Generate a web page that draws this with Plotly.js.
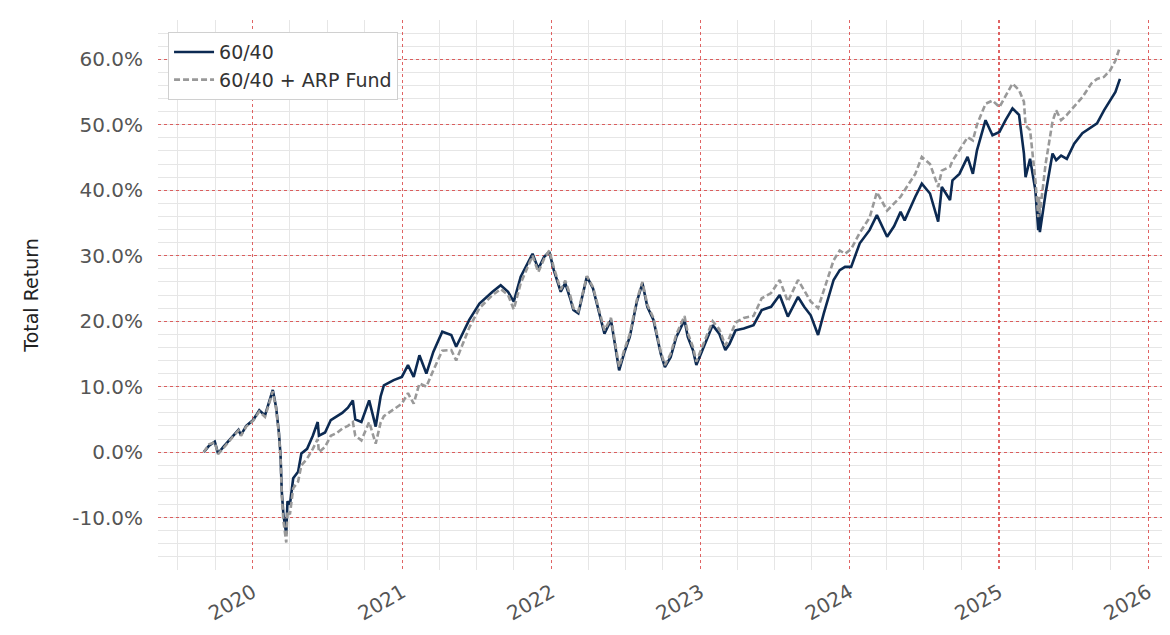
<!DOCTYPE html>
<html>
<head>
<meta charset="utf-8">
<script src="https://cdn.plot.ly/plotly-3.0.1.min.js"></script>
<style>
  html, body { margin: 0; padding: 0; background: #ffffff; }
  #chart { width: 1170px; height: 635px; }
</style>
</head>
<body>
<div id="chart"></div>
<script>
// Observation dates shared by both portfolios
const dates = [
  "2019-09-03","2019-09-16","2019-09-30","2019-10-08","2019-10-21","2019-11-04","2019-11-18","2019-11-27",
  "2019-12-03","2019-12-16","2020-01-02","2020-01-17","2020-01-31","2020-02-12","2020-02-19","2020-02-27",
  "2020-03-05","2020-03-09","2020-03-12","2020-03-16","2020-03-23","2020-03-26","2020-04-01","2020-04-09",
  "2020-04-21","2020-04-29","2020-05-13","2020-05-27","2020-06-08","2020-06-11","2020-06-26","2020-07-10",
  "2020-07-24","2020-08-07","2020-08-21","2020-09-02","2020-09-08","2020-09-23","2020-10-12","2020-10-28",
  "2020-11-09","2020-11-17","2020-12-11","2020-12-31","2021-01-15","2021-01-29","2021-02-12","2021-03-01",
  "2021-03-18","2021-04-09","2021-05-01","2021-05-13","2021-06-14","2021-07-09","2021-08-10","2021-08-30",
  "2021-09-17","2021-10-01","2021-10-18","2021-11-02","2021-11-16","2021-11-30","2021-12-14","2021-12-27",
  "2022-01-07","2022-01-24","2022-02-04","2022-02-16","2022-02-24","2022-03-08","2022-03-29","2022-04-13",
  "2022-04-29","2022-05-11","2022-05-27","2022-06-16","2022-06-28","2022-07-12","2022-07-29","2022-08-12",
  "2022-08-24","2022-09-08","2022-09-26","2022-10-06","2022-10-20","2022-11-03","2022-11-23","2022-12-01",
  "2022-12-14","2022-12-22","2023-01-06","2023-01-31","2023-02-16","2023-03-03","2023-03-13","2023-03-28",
  "2023-04-17","2023-05-11","2023-05-31","2023-06-23","2023-07-14","2023-08-03","2023-08-28","2023-09-12",
  "2023-09-28","2023-10-16","2023-10-30","2023-11-23","2023-12-08","2023-12-21","2024-01-05","2024-01-26",
  "2024-02-19","2024-03-08","2024-04-02","2024-04-19","2024-05-05","2024-05-15","2024-06-10","2024-06-26",
  "2024-07-16","2024-08-05","2024-08-14","2024-09-03","2024-09-09","2024-09-26","2024-10-16","2024-10-29",
  "2024-11-08","2024-11-29","2024-12-16","2025-01-02","2025-01-17","2025-02-03","2025-02-19","2025-03-03",
  "2025-03-07","2025-03-18","2025-03-31","2025-04-07","2025-04-09","2025-04-11","2025-04-25","2025-05-12",
  "2025-05-21","2025-06-02","2025-06-16","2025-07-04","2025-07-24","2025-08-15","2025-08-29","2025-09-15",
  "2025-09-30","2025-10-13","2025-10-24"
];

// Cumulative total return (%) of the 60/40 portfolio
const return6040 = [
  0.0, 1.0, 1.6, -0.2, 0.8, 1.8, 2.8, 3.4,
  2.6, 4.0, 4.9, 6.4, 5.6, 8.0, 9.5, 6.9,
  3.0, -0.5, -6.0, -9.5, -12.5, -7.5, -8.0, -4.0,
  -3.0, -0.2, 0.5, 2.5, 4.6, 2.5, 3.0, 4.9,
  5.5, 6.0, 6.8, 7.9, 5.0, 4.6, 7.9, 3.9,
  8.5, 10.2, 11.0, 11.5, 13.3, 11.5, 14.8, 12.0,
  15.3, 18.4, 17.9, 16.1, 20.2, 22.7, 24.5, 25.5,
  24.5, 23.0, 26.8, 28.5, 30.3, 28.0, 29.8, 30.6,
  27.8, 24.5, 25.8, 23.5, 21.7, 21.2, 26.8, 25.0,
  21.2, 18.1, 20.2, 12.5, 15.1, 17.6, 22.9, 25.8,
  22.2, 20.2, 15.0, 13.0, 14.5, 17.6, 20.2, 17.6,
  15.5, 13.3, 15.6, 19.4, 18.1, 15.6, 16.5, 18.6,
  18.9, 19.4, 21.7, 22.2, 24.0, 20.7, 23.7, 22.2,
  20.9, 17.9, 21.2, 26.3, 27.8, 28.3, 28.3, 31.9,
  33.9, 36.2, 32.9, 34.5, 36.7, 35.4, 39.0, 41.0,
  39.5, 35.2, 40.5, 38.5, 41.5, 42.5, 45.1, 42.5,
  46.1, 50.7, 48.4, 48.9, 50.7, 52.5, 51.5, 45.6,
  42.0, 44.8, 40.0, 33.9, 37.5, 33.6, 39.5, 45.6,
  44.6, 45.3, 44.8, 47.1, 48.7, 49.7, 50.2, 52.2,
  53.7, 55.0, 57.0
];

// Cumulative total return (%) of the 60/40 portfolio with the ARP Fund sleeve
const returnArp = [
  0.0, 1.2, 1.5, -0.3, 0.6, 1.7, 2.7, 3.3,
  2.5, 3.9, 4.8, 6.2, 5.4, 7.8, 9.3, 6.7,
  2.8, -0.8, -6.5, -10.5, -13.8, -9.0, -9.5, -5.5,
  -4.5, -2.0, -1.0, 0.5, 2.0, 0.0, 0.8, 2.5,
  2.9, 3.6, 4.0, 4.6, 2.5, 1.8, 4.6, 1.3,
  4.5, 5.5, 6.5, 7.4, 9.0, 7.4, 10.5, 10.0,
  12.5, 15.5, 15.6, 14.0, 19.0, 22.0, 24.0, 24.9,
  24.0, 21.8, 25.8, 28.0, 30.0, 27.5, 29.5, 30.8,
  28.2, 24.8, 26.2, 24.0, 22.0, 21.5, 26.9, 25.2,
  21.5, 18.6, 20.5, 13.0, 15.5, 18.0, 23.2, 26.0,
  22.5, 20.5, 15.3, 13.3, 15.0, 18.0, 20.8, 18.2,
  16.0, 13.8, 16.2, 20.0, 18.8, 16.3, 17.5, 19.8,
  20.5, 20.8, 23.5, 24.3, 26.3, 23.0, 26.3, 24.7,
  23.0, 22.0, 24.8, 29.3, 30.8, 30.3, 31.0, 33.5,
  35.8, 39.7, 36.9, 38.0, 39.0, 40.0, 42.5, 45.1,
  44.0, 40.5, 43.0, 43.6, 44.5, 46.1, 48.1, 47.6,
  50.0, 53.2, 53.7, 52.7, 54.5, 56.3, 55.3, 53.5,
  49.9, 49.2, 41.5, 35.9, 39.0, 36.5, 44.0, 50.5,
  52.2, 50.7, 51.5, 52.7, 54.2, 56.3, 57.0, 57.3,
  58.3, 59.8, 61.9
];

const seriesNames = ["60/40", "60/40 + ARP Fund"];
const yTickValues = [-10, 0, 10, 20, 30, 40, 50, 60];
const yTickLabels = yTickValues.map(v => v.toFixed(1) + "%");

const fontFamily = "DejaVu Sans, Verdana, sans-serif";
const majorGrid = "rgba(214, 48, 48, 0.75)";
const minorGrid = "#e6e6e6";
const tickFont = { family: fontFamily, size: 20, color: "#555555" };

const traces = [
  {
    x: dates, y: return6040, name: seriesNames[0],
    type: "scatter", mode: "lines",
    line: { color: "#0c2a52", width: 2.6 }
  },
  {
    x: dates, y: returnArp, name: seriesNames[1],
    type: "scatter", mode: "lines",
    line: { color: "#999999", width: 2.6, dash: "6px,3px" }
  }
];

const layout = {
  width: 1170, height: 635,
  margin: { l: 158, r: 8, t: 20, b: 65 },
  paper_bgcolor: "#ffffff",
  plot_bgcolor: "#ffffff",
  showlegend: true,
  legend: {
    x: 0.01, y: 0.978, xanchor: "left", yanchor: "top",
    bgcolor: "#ffffff", bordercolor: "#d0d0d0", borderwidth: 1,
    font: { family: fontFamily, size: 19, color: "#333333" },
    itemwidth: 40
  },
  xaxis: {
    type: "date",
    range: ["2019-05-14", "2026-02-04"],
    tick0: "2020-01-01", dtick: "M12", tickformat: "%Y",
    tickangle: -30,
    tickfont: tickFont,
    ticks: "", ticklabelstandoff: 6,
    showgrid: true, gridcolor: majorGrid, griddash: "dot", gridwidth: 1.2,
    minor: { dtick: "M3", showgrid: true, gridcolor: minorGrid, gridwidth: 1, griddash: "solid" },
    showline: false, zeroline: false
  },
  yaxis: {
    range: [-18, 66],
    tickmode: "array",
    tickvals: yTickValues,
    ticktext: yTickLabels,
    tickfont: tickFont,
    ticks: "", ticklabelstandoff: 14,
    showgrid: true, gridcolor: majorGrid, griddash: "dot", gridwidth: 1.2,
    minor: { dtick: 2, showgrid: true, gridcolor: minorGrid, gridwidth: 1, griddash: "solid" },
    showline: false, zeroline: false,
    title: {
      text: "Total Return",
      font: { family: fontFamily, size: 19, color: "#222222" },
      standoff: 28
    }
  }
};

Plotly.newPlot("chart", traces, layout, { staticPlot: true, displayModeBar: false });
</script>
</body>
</html>
